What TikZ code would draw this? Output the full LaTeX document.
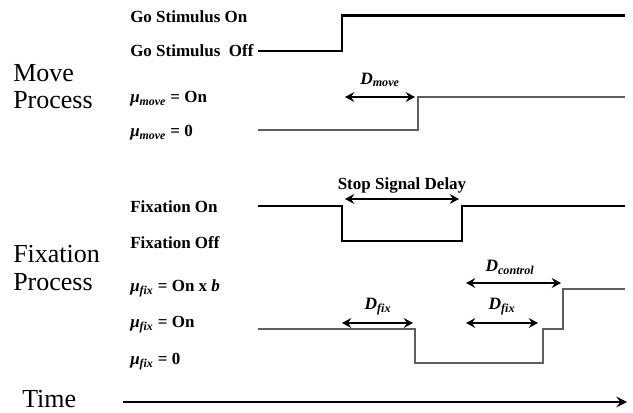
\documentclass[tikz,border=0pt]{standalone}
\usepackage{fontspec}
\setmainfont{Liberation Serif}
\usetikzlibrary{arrows.meta}
\definecolor{siggray}{HTML}{5E5E5E}
\begin{document}
\begin{tikzpicture}[x=0.75pt,y=-0.75pt,
  biglab/.style={anchor=west,inner sep=0pt,font=\fontsize{19.5}{22}\selectfont},
  smalllab/.style={anchor=west,inner sep=0pt,font=\fontsize{12.75}{15}\selectfont\bfseries},
  dlab/.style={inner sep=0pt,font=\fontsize{13}{15}\selectfont\bfseries\itshape},
  stim/.style={line width=1.6pt,black},
  proc/.style={line width=1.2pt,siggray},
  span/.style={line width=1.3pt,black,{Stealth[length=7pt,width=7.5pt,inset=2.5pt]}-{Stealth[length=7pt,width=7.5pt,inset=2.5pt]}},
  axis/.style={line width=1.6pt,black,-{Stealth[length=8pt,width=8pt,inset=3pt]}}]
\useasboundingbox (0,0) rectangle (633,412);
% big labels
\node[biglab] (move) at (13,73) {Move};
\node[biglab] (moveproc) at (13,100) {Process};
\node[biglab] (fix) at (13,254) {Fixation};
\node[biglab] (fixproc) at (13,282) {Process};
\node[biglab] (time) at (22,399) {Time};
% small labels
\node[smalllab] (goon) at (130,17) {Go Stimulus On};
\node[smalllab] (gooff) at (130,51) {Go Stimulus\ \ Off};
\node[smalllab] (mmon) at (130,99) {\textit{μ}\textsubscript{\textit{move}} = On};
\node[smalllab] (mm0) at (130,133) {\textit{μ}\textsubscript{\textit{move}} = 0};
\node[smalllab] (fon) at (130,207) {Fixation On};
\node[smalllab] (foff) at (130,243) {Fixation Off};
\node[smalllab] (mfb) at (130,288) {\textit{μ}\textsubscript{\textit{fix}} = On x \textit{b}};
\node[smalllab] (mfon) at (130,325) {\textit{μ}\textsubscript{\textit{fix}} = On};
\node[smalllab] (mf0) at (130,362) {\textit{μ}\textsubscript{\textit{fix}} = 0};
% go stimulus
\draw[stim] (258,51) -- (342,51) -- (342,15.5) -- (625,15.5);
% move process
\draw[proc] (258,130) -- (418,130) -- (418,97) -- (625,97);
\coordinate (dm1) at (345,97); \coordinate (dm2) at (415,97);
\draw[span] (dm1) -- (dm2);
\node[dlab] (dmove) at (380,80) {D\textsubscript{move}};
% fixation signal
\draw[stim] (258,206) -- (342,206) -- (342,241) -- (462,241) -- (462,206) -- (625,206);
\coordinate (ss1) at (345,199); \coordinate (ss2) at (459,199);
\draw[span] (ss1) -- (ss2);
\node[inner sep=0pt,font=\fontsize{12.75}{15}\selectfont\bfseries] (ssd) at (402,185) {Stop Signal Delay};
% fixation process
\draw[proc] (258,329) -- (415,329) -- (415,363) -- (543,363) -- (543,329) -- (563,329) -- (563,289) -- (625,289);
\coordinate (df1a) at (342,323); \coordinate (df1b) at (413,323);
\draw[span] (df1a) -- (df1b);
\node[dlab] (dfix1) at (378,307) {D\textsubscript{fix}};
\coordinate (df2a) at (466,323); \coordinate (df2b) at (538,323);
\draw[span] (df2a) -- (df2b);
\node[dlab] (dfix2) at (502,307) {D\textsubscript{fix}};
\coordinate (dca) at (466,283); \coordinate (dcb) at (561,283);
\draw[span] (dca) -- (dcb);
\node[dlab] (dctrl) at (510,267) {D\textsubscript{control}};
% time axis
\coordinate (t1) at (123,402); \coordinate (t2) at (627,402);
\draw[axis] (t1) -- (t2);
\end{tikzpicture}
\end{document}
